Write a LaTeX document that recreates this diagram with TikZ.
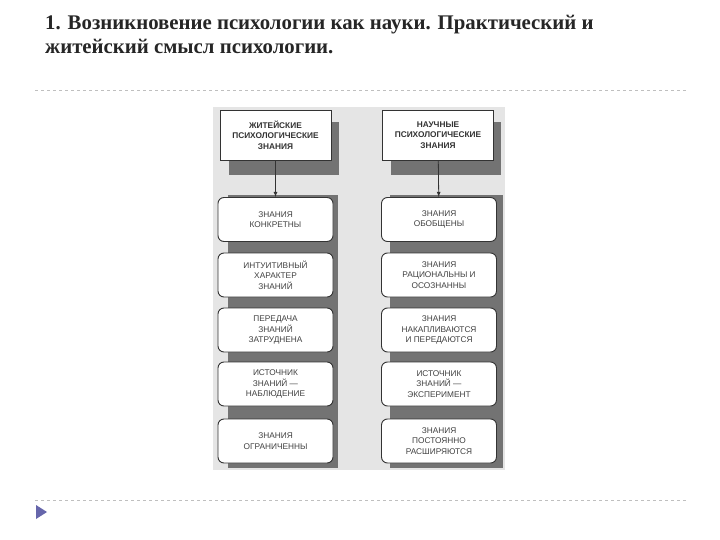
\documentclass[tikz,border=0pt]{standalone}
\usepackage{fontspec}
\setmainfont{Liberation Serif}
\newfontfamily\boxfont{Liberation Sans}
\begin{document}
\begin{tikzpicture}[x=1pt,y=-1pt,
  box/.style={draw=black!80,line width=0.9pt,rounded corners=6pt,fill=white,minimum width=115pt,minimum height=44pt,align=center,font=\boxfont\fontsize{8.3}{10.5}\selectfont,text=black!75},
  head/.style={draw=black!80,line width=0.9pt,fill=white,minimum width=111pt,minimum height=50pt,align=center,font=\boxfont\bfseries\fontsize{8.3}{10.5}\selectfont,text=black!80},
  arr/.style={-latex,line width=0.8pt,black!80},
  sep/.style={black!25,dashed,line width=0.6pt}]
\useasboundingbox (0,0) rectangle (720,540);
\fill[white] (0,0) rectangle (720,540);
\node[anchor=north west,align=left,inner sep=0pt,font=\bfseries\fontsize{20.8}{24}\selectfont,text=black!85] (title) at (45,15) {1. Возникновение психологии как науки. Практический и\\житейский смысл психологии.};
\coordinate (s1a) at (35,90); \coordinate (s1b) at (688,90);
\coordinate (s2a) at (35,500); \coordinate (s2b) at (688,500);
\draw[sep] (s1a) -- (s1b);
\draw[sep] (s2a) -- (s2b);
\fill[black!10] (213,107) rectangle (505,470);
\fill[black!55] (228,195) rectangle (338,468);
\fill[black!55] (390,195) rectangle (503,468);
\fill[black!55] (229,122) rectangle (339,175);
\fill[black!55] (391,122) rectangle (501,175);
\node[head] (h1) at (275.5,135) {ЖИТЕЙСКИЕ\\ПСИХОЛОГИЧЕСКИЕ\\ЗНАНИЯ};
\node[head] (h2) at (438,135) {НАУЧНЫЕ\\ПСИХОЛОГИЧЕСКИЕ\\ЗНАНИЯ};
\node[box] (l1) at (275.5,219.5) {ЗНАНИЯ\\КОНКРЕТНЫ};
\node[box] (l2) at (275.5,275) {ИНТУИТИВНЫЙ\\ХАРАКТЕР\\ЗНАНИЙ};
\node[box] (l3) at (275.5,330) {ПЕРЕДАЧА\\ЗНАНИЙ\\ЗАТРУДНЕНА};
\node[box] (l4) at (275.5,384) {ИСТОЧНИК\\ЗНАНИЙ —\\НАБЛЮДЕНИЕ};
\node[box] (l5) at (275.5,441) {ЗНАНИЯ\\ОГРАНИЧЕННЫ};
\node[box] (r1) at (439,219.5) {ЗНАНИЯ\\ОБОБЩЕНЫ};
\node[box] (r2) at (439,275) {ЗНАНИЯ\\РАЦИОНАЛЬНЫ И\\ОСОЗНАННЫ};
\node[box] (r3) at (439,330) {ЗНАНИЯ\\НАКАПЛИВАЮТСЯ\\И ПЕРЕДАЮТСЯ};
\node[box] (r4) at (439,384) {ИСТОЧНИК\\ЗНАНИЙ —\\ЭКСПЕРИМЕНТ};
\node[box] (r5) at (439,441) {ЗНАНИЯ\\ПОСТОЯННО\\РАСШИРЯЮТСЯ};
\draw[arr] (h1) -- (l1);
\draw[arr] (h2) -- (r1);
\fill[blue!45!black!60!white] (36,505) -- (47,512) -- (36,519) -- cycle;
\end{tikzpicture}
\end{document}
